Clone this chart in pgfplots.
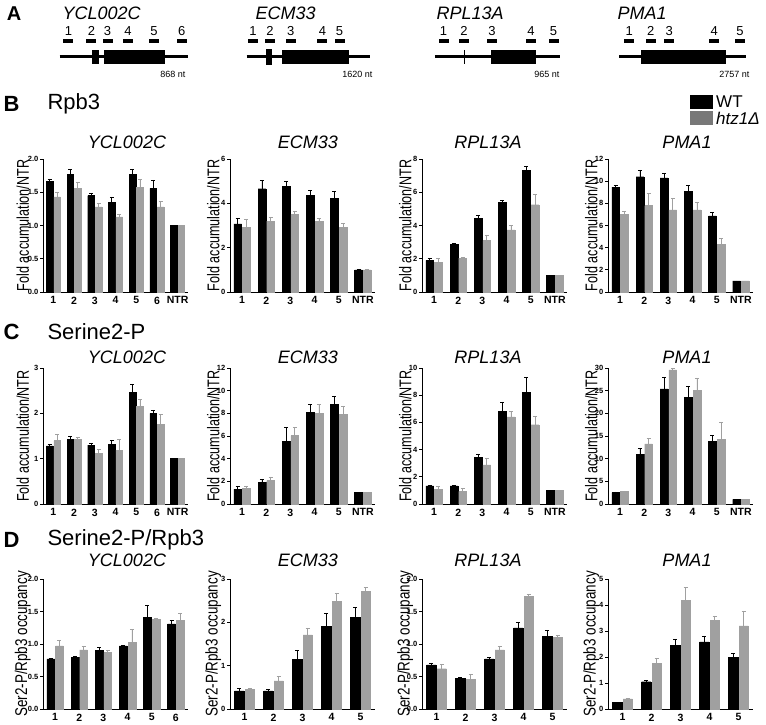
\documentclass[border=0pt]{standalone}
\usepackage{pgfplots}
\pgfplotsset{compat=1.18}
\usepackage{pgfplotstable}
\usepackage{graphicx}
\usepackage{fontspec}
\setmainfont{Liberation Sans}
\definecolor{gbar}{RGB}{160,160,160}
\definecolor{glegend}{RGB}{120,120,120}

% ---- B: Rpb3 ----
\pgfplotstableread{
x w we k ke
1 1.66 0.04 1.43 0.07
2 1.77 0.07 1.56 0.09
3 1.45 0.03 1.28 0.06
4 1.35 0.08 1.13 0.04
5 1.77 0.07 1.57 0.12
6 1.56 0.12 1.28 0.08
7 1.00 0 1.00 0
}\bYCL
\pgfplotstableread{
x w we k ke
1 3.07 0.25 2.93 0.35
2 4.66 0.36 3.20 0.17
3 4.78 0.21 3.50 0.14
4 4.35 0.24 3.20 0.14
5 4.23 0.30 2.92 0.16
6 1.00 0 1.00 0
}\bECM
\pgfplotstableread{
x w we k ke
1 1.90 0.10 1.80 0.24
2 2.85 0.05 2.04 0.06
3 4.45 0.18 3.10 0.33
4 5.41 0.12 3.73 0.27
5 7.33 0.24 5.25 0.62
6 1.00 0 1.00 0
}\bRPL
\pgfplotstableread{
x w we k ke
1 9.47 0.18 6.98 0.27
2 10.40 0.58 7.79 1.11
3 10.30 0.44 7.40 1.05
4 9.05 0.57 7.40 0.72
5 6.86 0.33 4.33 0.51
6 1.00 0 1.00 0
}\bPMA
% ---- C: Serine2-P ----
\pgfplotstableread{
x w we k ke
1 1.28 0.04 1.40 0.13
2 1.43 0.06 1.42 0.04
3 1.30 0.03 1.12 0.09
4 1.31 0.09 1.19 0.23
5 2.47 0.18 2.16 0.14
6 2.00 0.07 1.75 0.22
7 1.00 0 1.00 0
}\cYCL
\pgfplotstableread{
x w we k ke
1 1.31 0.27 1.37 0.21
2 1.94 0.21 2.06 0.33
3 5.52 1.20 6.03 0.69
4 8.09 0.69 7.97 0.83
5 8.78 0.74 7.88 0.75
6 1.00 0 1.00 0
}\cECM
\pgfplotstableread{
x w we k ke
1 1.33 0.05 1.08 0.25
2 1.33 0.05 0.93 0.20
3 3.43 0.25 2.88 0.50
4 6.80 0.70 6.40 0.43
5 8.20 1.10 5.83 0.60
6 1.00 0 1.00 0
}\cRPL
\pgfplotstableread{
x w we k ke
1 2.50 0.15 2.80 0.10
2 11.00 1.30 13.25 1.15
3 25.40 2.60 29.60 0.30
4 23.50 2.40 25.10 2.70
5 13.80 1.40 14.30 3.80
6 1.00 0 1.00 0
}\cPMA
% ---- D: Serine2-P/Rpb3 ----
\pgfplotstableread{
x w we k ke
1 0.77 0.005 0.97 0.09
2 0.80 0.01 0.91 0.05
3 0.90 0.05 0.87 0.04
4 0.97 0.01 1.03 0.20
5 1.41 0.18 1.38 0.02
6 1.31 0.05 1.36 0.11
}\dYCL
\pgfplotstableread{
x w we k ke
1 0.42 0.06 0.46 0.01
2 0.42 0.04 0.65 0.11
3 1.14 0.21 1.71 0.16
4 1.90 0.30 2.48 0.20
5 2.11 0.23 2.72 0.09
}\dECM
\pgfplotstableread{
x w we k ke
1 0.68 0.03 0.62 0.06
2 0.47 0.02 0.46 0.08
3 0.77 0.03 0.91 0.06
4 1.25 0.08 1.73 0.04
5 1.12 0.09 1.10 0.04
}\dRPL
\pgfplotstableread{
x w we k ke
1 0.25 0.01 0.39 0.02
2 1.05 0.05 1.75 0.20
3 2.46 0.21 4.17 0.52
4 2.58 0.23 3.41 0.17
5 1.99 0.14 3.20 0.57
}\dPMA

\pgfplotsset{
  gp/.style={
    scale only axis, width=145pt, height=133pt,
    axis x line*=bottom, axis y line*=left,
    axis line style={line width=0.8pt},
    xmin=0.5, ymin=0,
    xtick style={draw=none},
    ytick style={line width=0.8pt, black},
    tick align=outside, major tick length=3pt,
    /pgf/number format/assume math mode=true,
    yticklabel style={font=\bfseries\fontsize{7.5}{9}\selectfont, inner sep=1.5pt},
    xticklabel style={font=\bfseries\fontsize{10.5}{12}\selectfont, inner sep=1.5pt},
    ybar, bar width=0.32,
    ylabel style={at={(axis description cs:-0.115,0.5)}, anchor=center,
      font=\fontsize{17}{18}\selectfont},
    clip=false,
  },
  firstcol/.style={ylabel style={at={(axis description cs:-0.14,0.5)}}},
  onedec/.style={yticklabel style={/pgf/number format/.cd, fixed, fixed zerofill, precision=1}},
  fold/.style={ylabel={\scalebox{0.74}[1]{Fold accumulation/NTR}}},
  occ/.style={ylabel={\scalebox{0.79}[1]{Ser2-P/Rpb3 occupancy}}},
  seven/.style={xmax=7.5, xtick={1,...,7}, xticklabels={1,2,3,4,5,6,NTR}},
  six/.style={xmax=6.5, xtick={1,...,6}, xticklabels={1,2,3,4,5,NTR}},
  sixd/.style={xmax=6.5, xtick={1,...,6}, xticklabels={1,2,3,4,5,6}},
  fived/.style={xmax=5.5, xtick={1,...,5}, xticklabels={1,2,3,4,5}},
  wt/.style={fill=black, draw=black, bar shift=-0.18,
    error bars/.cd, y dir=plus, y explicit,
    error bar style={black, line width=0.7pt},
    error mark options={rotate=90, black, mark size=2pt, line width=0.7pt}},
  ko/.style={fill=gbar, draw=gbar, bar shift=0.18,
    error bars/.cd, y dir=plus, y explicit,
    error bar style={gbar, line width=0.7pt},
    error mark options={rotate=90, gbar, mark size=2pt, line width=0.7pt}},
}
\newcommand{\pair}[1]{%
  \addplot[wt] table[x=x, y=w, y error=we] {#1};
  \addplot[ko] table[x=x, y=k, y error=ke] {#1};}

\begin{document}
\begin{tikzpicture}
\useasboundingbox (0,0) rectangle (766pt,724pt);

% ---------- panel A: gene maps (image coordinates, y downwards) ----------
\begin{scope}[shift={(0,724pt)}, x=1pt, y=-1pt]
  \node[font=\bfseries\fontsize{20}{22}\selectfont] at (14,14) {A};
  \tikzset{gt/.style={font=\itshape\fontsize{18}{20}\selectfont, anchor=west},
    num/.style={font=\fontsize{13}{14}\selectfont},
    nt/.style={font=\fontsize{9}{10}\selectfont, anchor=east}}
  % YCL002C
  \node[gt] at (59,13) {YCL002C};
  \draw[line width=3pt] (59.6,57) -- (188,57);
  \fill (91.8,50) rectangle (98.7,64);
  \fill (103.6,50) rectangle (165.1,64);
  \foreach \p/\n in {68.4/1,91.4/2,107.5/3,128/4,153.9/5,181.7/6}{
    \fill (\p-5,39.5) rectangle (\p+5,43.5);
    \node[num] at (\p,31) {\n};}
  \node[nt] at (189,74) {868 nt};
  % ECM33
  \node[gt] at (252,13) {ECM33};
  \draw[line width=3pt] (246.7,57) -- (369.8,57);
  \fill (266.2,49) rectangle (272.1,65);
  \fill (282.4,50) rectangle (349.3,64);
  \foreach \p/\n in {253/1,270.1/2,290.7/3,322.4/4,339.5/5}{
    \fill (\p-5,39.5) rectangle (\p+5,43.5);
    \node[num] at (\p,31) {\n};}
  \node[nt] at (376,74) {1620 nt};
  % RPL13A
  \node[gt] at (433,13) {RPL13A};
  \draw[line width=3pt] (434.8,57) -- (560.3,57);
  \draw[line width=1pt] (464.1,50) -- (464.1,64);
  \fill (491,50) rectangle (536.4,64);
  \foreach \p/\n in {443.6/1,464.1/2,491.9/3,531/4,553.5/5}{
    \fill (\p-5,39.5) rectangle (\p+5,43.5);
    \node[num] at (\p,31) {\n};}
  \node[nt] at (563,74) {965 nt};
  % PMA1
  \node[gt] at (614,13) {PMA1};
  \draw[line width=3pt] (619.4,57) -- (746.4,57);
  \fill (640.9,50) rectangle (726.4,64);
  \foreach \p/\n in {629.2/1,650.7/2,669.3/3,714.2/4,740.1/5}{
    \fill (\p-5,39.5) rectangle (\p+5,43.5);
    \node[num] at (\p,31) {\n};}
  \node[nt] at (753,74) {2757 nt};

  % panel headings
  \tikzset{ph/.style={font=\bfseries\fontsize{22}{24}\selectfont, anchor=west},
    pt/.style={font=\fontsize{22}{24}\selectfont, anchor=west}}
  \node[ph] at (0,104) {B};
  \node[pt] at (44,104) {Rpb3};
  \node[ph] at (0,332) {C};
  \node[pt] at (44,332) {Serine2-P};
  \node[ph] at (0,540) {D};
  \node[pt] at (44,540) {Serine2-P/Rpb3};

  % legend
  \fill[black] (690,95) rectangle (713,109);
  \fill[glegend] (690,111) rectangle (713,125);
  \node[anchor=west, font=\fontsize{17}{18}\selectfont, inner sep=1pt] at (715,102) {WT};
  \node[anchor=west, font=\itshape\fontsize{17}{18}\selectfont, inner sep=1pt] at (715,118) {htz1Δ};

  % chart titles
  \tikzset{ct/.style={font=\itshape\fontsize{18}{20}\selectfont}}
  \foreach \yy in {142,357,560}{
    \node[ct] at (127,\yy) {YCL002C};
    \node[ct] at (308,\yy) {ECM33};
    \node[ct] at (488,\yy) {RPL13A};
    \node[ct] at (687,\yy) {PMA1};}
\end{scope}

% ---------- row B ----------
\begin{axis}[gp, seven, onedec, fold, firstcol, at={(43pt,432pt)}, anchor=south west,
  ymax=2, ytick={0,0.5,...,2}]
\pair{\bYCL}
\end{axis}
\begin{axis}[gp, six, fold, at={(230pt,432pt)}, anchor=south west,
  ymax=6, ytick={0,2,4,6}]
\pair{\bECM}
\end{axis}
\begin{axis}[gp, six, fold, at={(422pt,432pt)}, anchor=south west,
  ymax=8, ytick={0,2,4,6,8}]
\pair{\bRPL}
\end{axis}
\begin{axis}[gp, six, fold, at={(608pt,432pt)}, anchor=south west,
  ymax=12, ytick={0,2,...,12}]
\pair{\bPMA}
\end{axis}

% ---------- row C ----------
\begin{axis}[gp, seven, fold, firstcol, height=136pt, at={(43pt,220pt)}, anchor=south west,
  ymax=3, ytick={0,1,2,3}]
\pair{\cYCL}
\end{axis}
\begin{axis}[gp, six, fold, height=136pt, at={(230pt,220pt)}, anchor=south west,
  ymax=12, ytick={0,2,...,12}]
\pair{\cECM}
\end{axis}
\begin{axis}[gp, six, fold, height=136pt, at={(422pt,220pt)}, anchor=south west,
  ymax=10, ytick={0,2,...,10}]
\pair{\cRPL}
\end{axis}
\begin{axis}[gp, six, fold, height=136pt, at={(608pt,220pt)}, anchor=south west,
  ymax=30, ytick={0,5,...,30}]
\pair{\cPMA}
\end{axis}

% ---------- row D ----------
\begin{axis}[gp, sixd, onedec, occ, firstcol, height=130pt, at={(43pt,15pt)}, anchor=south west,
  ymax=2, ytick={0,0.5,...,2}]
\pair{\dYCL}
\end{axis}
\begin{axis}[gp, fived, occ, height=130pt, at={(230pt,15pt)}, anchor=south west,
  ymax=3, ytick={0,1,2,3}]
\pair{\dECM}
\end{axis}
\begin{axis}[gp, fived, onedec, occ, height=130pt, at={(422pt,15pt)}, anchor=south west,
  ymax=2, ytick={0,0.5,...,2}]
\pair{\dRPL}
\end{axis}
\begin{axis}[gp, fived, occ, height=130pt, at={(608pt,15pt)}, anchor=south west,
  ymax=5, ytick={0,1,...,5}]
\pair{\dPMA}
\end{axis}
\end{tikzpicture}
\end{document}
